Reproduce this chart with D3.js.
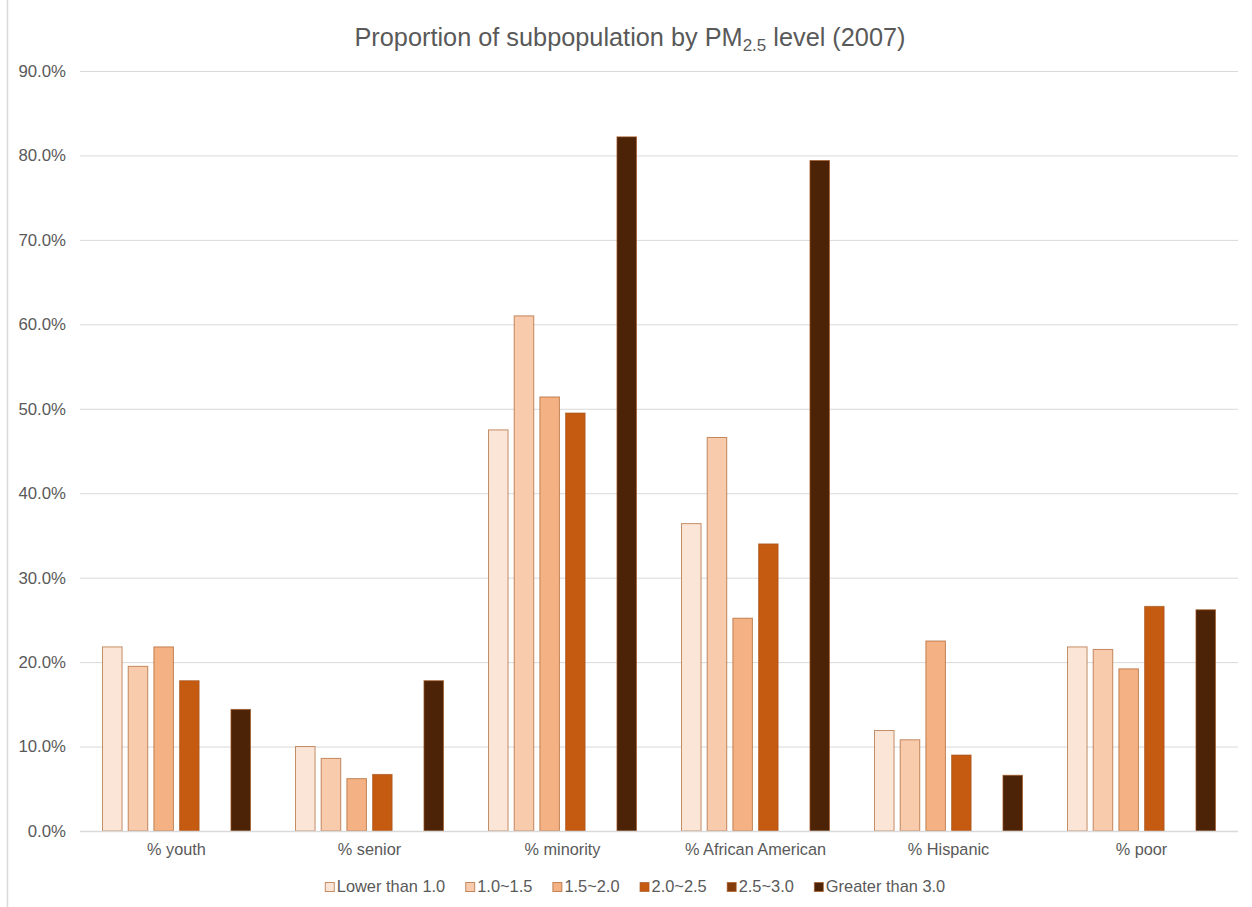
<!DOCTYPE html>
<html><head><meta charset="utf-8">
<script src="https://cdn.jsdelivr.net/npm/d3@7/dist/d3.min.js"></script>
<style>body{margin:0;background:#fff;} svg{display:block;font-family:"Liberation Sans",Arial,sans-serif;}</style>
</head><body>
<svg id="chart" width="1252" height="907"></svg>
<script>
const categories = ["% youth", "% senior", "% minority", "% African American", "% Hispanic", "% poor"];
const seriesNames = ["Lower than 1.0", "1.0~1.5", "1.5~2.0", "2.0~2.5", "2.5~3.0", "Greater than 3.0"];
const lowerThan1 = [21.8, 10.0, 47.5, 36.4, 11.9, 21.8];
const s1to15 = [19.5, 8.6, 61.0, 46.6, 10.8, 21.5];
const s15to2 = [21.8, 6.2, 51.4, 25.2, 22.5, 19.2];
const s2to25 = [17.8, 6.7, 49.5, 34.0, 9.0, 26.6];
const s25to3 = [null, null, null, null, null, null];
const greater3 = [14.4, 17.8, 82.2, 79.4, 6.6, 26.2];
const tickValues = [0, 10, 20, 30, 40, 50, 60, 70, 80, 90];
const colors = ["#FBE5D6", "#F8CBAD", "#F4B183", "#C55A11", "#843C0C", "#4D2307"];

const seriesValues = [lowerThan1, s1to15, s15to2, s2to25, s25to3, greater3];
const svg = d3.select("#chart");
const plotLeft = 80, plotRight = 1238, plotTop = 71, plotBottom = 831;
const textColor = "#595959";

const x0 = d3.scaleBand().domain(categories).range([plotLeft, plotRight]).padding(0);
const inset = 22;
const x1 = d3.scaleBand().domain(seriesNames).range([inset, x0.bandwidth() - inset]).paddingInner(0.2).paddingOuter(0);
const y = d3.scaleLinear().domain([0, 90]).range([plotBottom, plotTop]);

// left border
svg.append("line").attr("x1", 7.5).attr("x2", 7.5).attr("y1", 0).attr("y2", 907).attr("stroke", "#d9d9d9").attr("stroke-width", 1.5);

// gridlines + y labels
const yAxis = d3.axisLeft(y).tickValues(tickValues).tickSize(-(plotRight - plotLeft)).tickFormat(d => d.toFixed(1) + "%").tickPadding(14);
const ga = svg.append("g").attr("transform", `translate(${plotLeft},0)`).call(yAxis);
ga.select(".domain").remove();
ga.selectAll(".tick line").attr("stroke", "#d9d9d9").attr("stroke-width", 1);
ga.selectAll(".tick text").attr("fill", textColor).style("font-size", "16.8px").style("font-family", "'Liberation Sans',Arial,sans-serif");

// bars
const groups = svg.append("g").selectAll("g").data(categories).join("g").attr("transform", d => `translate(${x0(d)},0)`);
groups.each(function(cat, ci) {
  const g = d3.select(this);
  seriesNames.forEach((s, si) => {
    const v = seriesValues[si][ci];
    if (v == null) return;
    g.append("rect")
      .attr("x", x1(s) + 0.5)
      .attr("y", y(v))
      .attr("width", x1.bandwidth() - 1)
      .attr("height", y(0) - y(v))
      .attr("fill", colors[si])
      .attr("stroke", "#A5561F")
      .attr("stroke-opacity", 0.65)
      .attr("stroke-width", 1);
  });
});

// baseline
svg.append("line").attr("x1", plotLeft).attr("x2", plotRight).attr("y1", plotBottom + 0.5).attr("y2", plotBottom + 0.5).attr("stroke", "#d9d9d9").attr("stroke-width", 1.5);

// x axis labels
const xAxis = d3.axisBottom(x0).tickSize(0).tickPadding(12.5);
const gx = svg.append("g").attr("transform", `translate(0,${plotBottom})`).call(xAxis);
gx.select(".domain").remove();
gx.selectAll(".tick text").attr("fill", textColor).style("font-size", "16.3px").style("font-family", "'Liberation Sans',Arial,sans-serif");

// title
const title = svg.append("text").attr("x", 630).attr("y", 46).attr("text-anchor", "middle")
  .attr("fill", textColor).style("font-size", "25.3px");
title.append("tspan").text("Proportion of subpopulation by PM");
title.append("tspan").text("2.5").attr("dy", 5).style("font-size", "17px");
title.append("tspan").text(" level (2007)").attr("dy", -5);

// legend
const lg = svg.append("g");
const items = seriesNames.map((s, i) => {
  const gi = lg.append("g");
  gi.append("rect").attr("x", 0.5).attr("y", 882.5).attr("width", 9).attr("height", 9)
    .attr("fill", colors[i]).attr("stroke", "#A5561F").attr("stroke-opacity", 0.65);
  const t = gi.append("text").attr("x", 12).attr("y", 892).attr("fill", textColor).style("font-size", "16.4px").text(s);
  return {g: gi, w: 12 + t.node().getComputedTextLength()};
});
const gap = 20;
const total = d3.sum(items, d => d.w) + gap * (items.length - 1);
let cx = 635 - total / 2;
items.forEach(it => { it.g.attr("transform", `translate(${cx},0)`); cx += it.w + gap; });
</script>
</body></html>
